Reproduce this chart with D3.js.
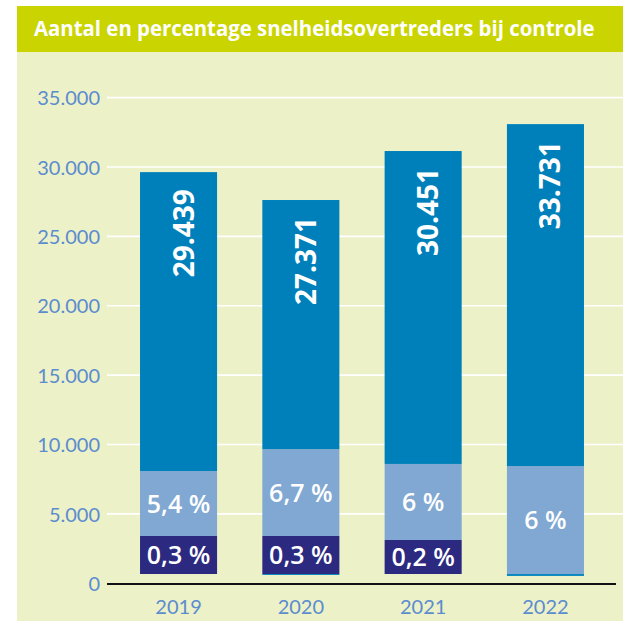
<!DOCTYPE html>
<html>
<head>
<meta charset="utf-8">
<script src="https://cdn.jsdelivr.net/npm/d3@7"></script>
<style>
  html, body { margin: 0; padding: 0; background: #ffffff; }
  svg { display: block; }
</style>
</head>
<body>
<svg id="chart" width="623" height="621"></svg>
<script>
// ---- data ----
const title = "Aantal en percentage snelheidsovertreders bij controle";
const years = ["2019", "2020", "2021", "2022"];
const totalLabels = ["29.439", "27.371", "30.451", "33.731"];
// segment boundaries in number of drivers (as drawn)
const barTop    = [29630, 27620, 31150, 33090];
const midTop    = [8090, 9670, 8600, 8450];
const lowTop    = [3410, 3410, 3120, 670];
const barBase   = [670, 670, 670, 670];
const stripeBottom = [670, 600, 670, 530];
const midLabels = ["5,4 %", "6,7 %", "6 %", "6 %"];
const lowLabels = ["0,3 %", "0,3 %", "0,2 %", ""];
const yTicks = [0, 5000, 10000, 15000, 20000, 25000, 30000, 35000];

// ---- drawing ----
const svg = d3.select("#chart");
const W = 623, H = 621;

const colTitle = "#c9d400", colBg = "#ecf1c8", colTop = "#0080ba",
      colMid = "#80a8d2", colLow = "#2c2a80", colStripe = "#0a86c0",
      colAxisText = "#5b8ccf";

// panels
svg.append("rect").attr("x", 17).attr("y", 52).attr("width", W - 17).attr("height", H - 52).attr("fill", colBg);
svg.append("rect").attr("x", 17).attr("y", 6).attr("width", W - 17).attr("height", 46).attr("fill", colTitle);
const tt = svg.append("text")
  .attr("x", 0).attr("y", 0)
  .attr("font-family", "'Open Sans', sans-serif")
  .attr("font-weight", 700).attr("font-size", 22)
  .attr("fill", "#ffffff")
  .text(title);
const natural = tt.node().getComputedTextLength() || 600;
tt.attr("transform", `translate(34,36) scale(${561 / natural},1)`);

const y = d3.scaleLinear().domain([0, 35000]).range([583.3, 97.6]);
const x = d3.scaleBand().domain(years).range([107, 617]).paddingInner(0.37).paddingOuter(0.27);

// gridlines + y tick labels via axis
const fmt = d => d === 0 ? "0" : d3.format(",")(d).replace(/,/g, ".");
const yAxis = d3.axisLeft(y).tickValues(yTicks).tickFormat(fmt).tickSize(0).tickPadding(0);
const gy = svg.append("g").attr("transform", "translate(100,0)").call(yAxis);
gy.select(".domain").remove();
gy.selectAll("text")
  .attr("font-family", "Lato, sans-serif").attr("font-size", 20)
  .attr("fill", colAxisText).attr("dy", "0.36em");

svg.append("g").selectAll("line").data(yTicks.filter(d => d > 0)).join("line")
  .attr("x1", 107).attr("x2", W)
  .attr("y1", d => y(d)).attr("y2", d => y(d))
  .attr("stroke", "#ffffff").attr("stroke-width", 1.6);

// bars
const bars = svg.append("g");
years.forEach((yr, i) => {
  const x0 = x(yr), bw = x.bandwidth();
  const seg = (a, b, c) => bars.append("rect")
    .attr("x", x0).attr("width", bw)
    .attr("y", y(b)).attr("height", Math.max(0, y(a) - y(b))).attr("fill", c);
  seg(stripeBottom[i], barBase[i], colStripe);
  seg(barBase[i], lowTop[i], colLow);
  seg(lowTop[i], midTop[i], colMid);
  seg(midTop[i], barTop[i], colTop);
});

// zero line
svg.append("line").attr("x1", 107).attr("x2", 616)
  .attr("y1", y(0) + 0.8).attr("y2", y(0) + 0.8)
  .attr("stroke", "#111111").attr("stroke-width", 2);

// x axis labels
const xAxis = d3.axisBottom(x).tickSize(0).tickPadding(0);
const gx = svg.append("g").attr("transform", "translate(0,598)").call(xAxis);
gx.select(".domain").remove();
gx.selectAll("text")
  .attr("font-family", "Lato, sans-serif").attr("font-size", 20)
  .attr("fill", colAxisText).attr("dy", "0.8em");

// value labels (rotated)
svg.append("g").selectAll("text").data(years).join("text")
  .attr("transform", (d, i) => `translate(${x(d) + x.bandwidth() / 2 + 15},${y(barTop[i]) + 17}) rotate(-90)`)
  .attr("text-anchor", "end")
  .attr("font-family", "'Open Sans', sans-serif").attr("font-weight", 700).attr("font-size", 28)
  .attr("fill", "#ffffff")
  .text((d, i) => totalLabels[i]);

// percentage labels
svg.append("g").selectAll("text").data(years).join("text")
  .attr("x", d => x(d) + x.bandwidth() / 2)
  .attr("y", (d, i) => (y(midTop[i]) + y(lowTop[i])) / 2)
  .attr("dy", "0.36em").attr("text-anchor", "middle")
  .attr("font-family", "'Open Sans', sans-serif").attr("font-weight", 600).attr("font-size", 25)
  .attr("fill", "#ffffff")
  .text((d, i) => midLabels[i]);

svg.append("g").selectAll("text").data(years).join("text")
  .attr("x", d => x(d) + x.bandwidth() / 2)
  .attr("y", (d, i) => (y(lowTop[i]) + y(barBase[i])) / 2)
  .attr("dy", "0.36em").attr("text-anchor", "middle")
  .attr("font-family", "'Open Sans', sans-serif").attr("font-weight", 600).attr("font-size", 25)
  .attr("fill", "#ffffff")
  .text((d, i) => lowLabels[i]);
</script>
</body>
</html>
